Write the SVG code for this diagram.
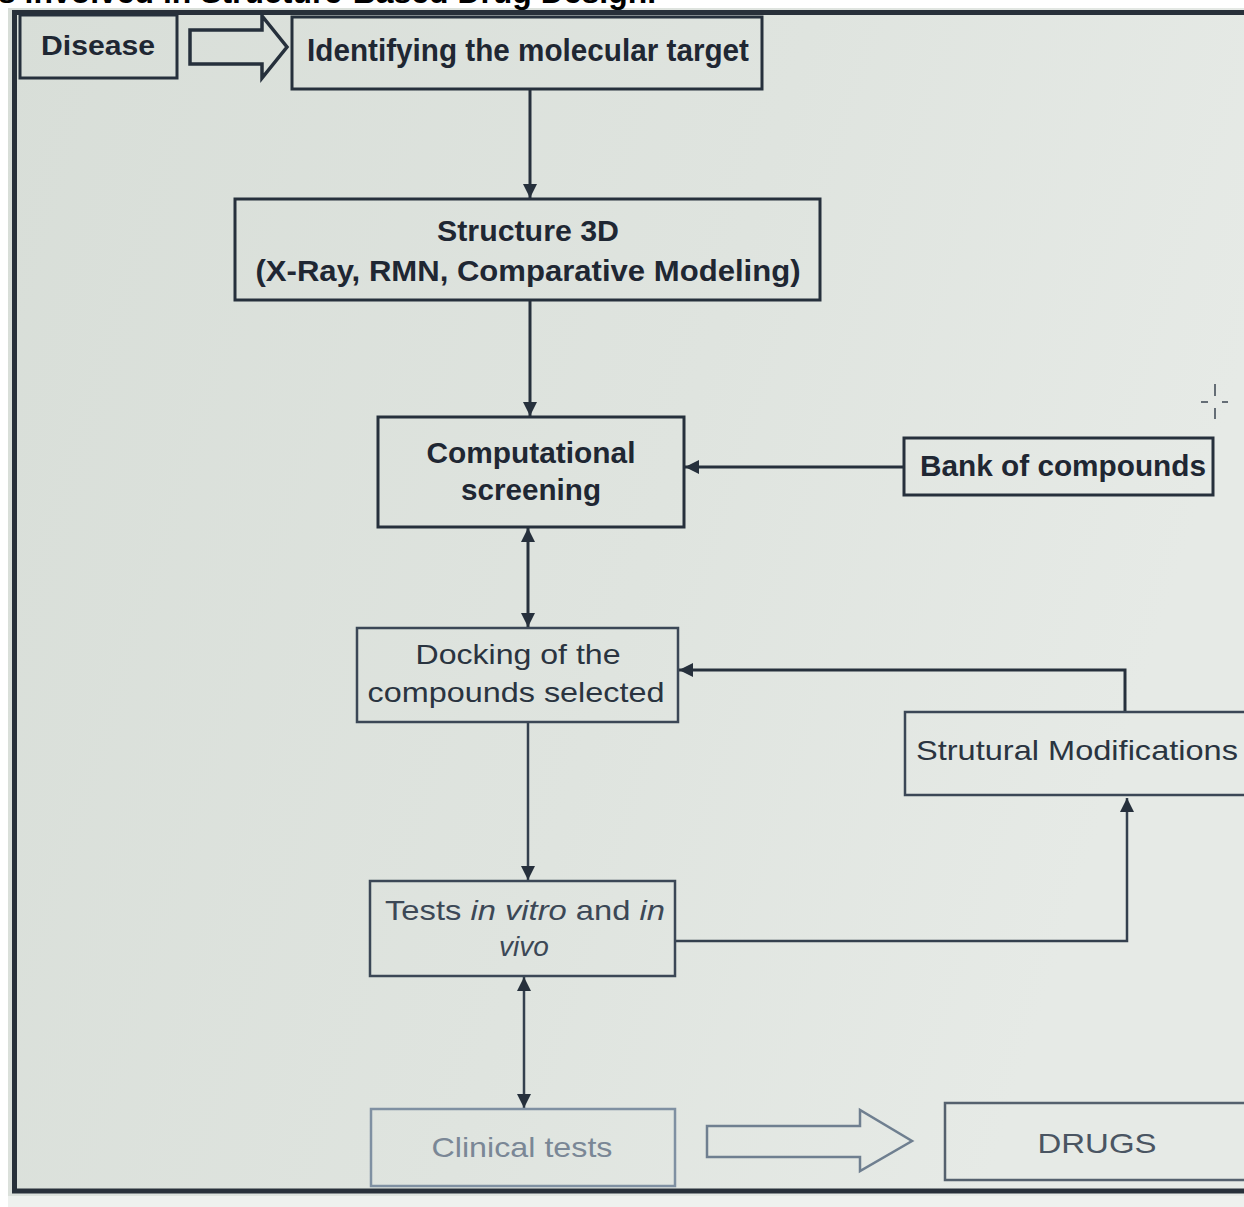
<svg xmlns="http://www.w3.org/2000/svg" width="1244" height="1207" viewBox="0 0 1244 1207">
  <defs>
    <linearGradient id="bg" x1="0" y1="0" x2="1" y2="0.3">
      <stop offset="0" stop-color="#d8ded8"/>
      <stop offset="0.6" stop-color="#dfe4df"/>
      <stop offset="1" stop-color="#e6eae6"/>
    </linearGradient>
    <marker id="ah" viewBox="0 0 10 10" refX="10" refY="5" markerWidth="14" markerHeight="14" markerUnits="userSpaceOnUse" orient="auto-start-reverse">
      <path d="M0,0 L10,5 L0,10 z" fill="#26303c"/>
    </marker>
    <style>
      .box { fill: none; stroke: #26303c; stroke-width: 3; }
      .box2 { fill: none; stroke: #3b4756; stroke-width: 2.5; }
      .box3 { fill: none; stroke: #7f90a2; stroke-width: 2.5; }
      .line { fill: none; stroke: #26303c; stroke-width: 3; }
      .line2 { fill: none; stroke: #34404e; stroke-width: 2.5; }
      .t1 { font-family: "Liberation Sans", Arial, sans-serif; font-weight: bold; fill: #1f2733; text-anchor: middle; }
      .t2 { font-family: "Liberation Sans", Arial, sans-serif; fill: #2a3440; text-anchor: middle; }
      .t3 { font-family: "Liberation Sans", Arial, sans-serif; fill: #3c4856; text-anchor: middle; }
    </style>
  </defs>

  <rect x="0" y="0" width="1244" height="1207" fill="#ffffff"/>
  <rect x="8" y="8" width="1236" height="1190" fill="url(#bg)"/>
  <rect x="8" y="1196" width="1236" height="11" fill="#eef1ee"/>

  <text x="-2" y="3" font-family="Liberation Sans, Arial, sans-serif" font-weight="bold" font-size="31" fill="#000" textLength="658" lengthAdjust="spacingAndGlyphs">s involved in Structure-Based Drug Design.</text>

  <!-- outer frame -->
  <path d="M1250,12.5 L14.5,12.5 L14.5,1191 L1250,1191" fill="none" stroke="#28303a" stroke-width="5"/>

  <g id="connectors">
    <!-- Disease hollow arrow -->
    <path d="M190,30 L262,30 L262,16 L287,47 L262,78 L262,64 L190,64 Z" fill="none" stroke="#26303c" stroke-width="3.5" stroke-linejoin="miter"/>
    <line class="line" x1="530" y1="89" x2="530" y2="198" marker-end="url(#ah)"/>
    <line class="line" x1="530" y1="300" x2="530" y2="416" marker-end="url(#ah)"/>
    <line class="line" x1="904" y1="467" x2="685" y2="467" marker-end="url(#ah)"/>
    <line class="line" x1="528" y1="528" x2="528" y2="627" marker-start="url(#ah)" marker-end="url(#ah)"/>
    <polyline class="line" points="1125,712 1125,670 679,670" marker-end="url(#ah)"/>
    <line class="line2" x1="528" y1="722" x2="528" y2="880" marker-end="url(#ah)"/>
    <polyline class="line2" points="675,941 1127,941 1127,798" marker-end="url(#ah)"/>
    <line class="line2" x1="524" y1="977" x2="524" y2="1108" marker-start="url(#ah)" marker-end="url(#ah)"/>
    <!-- Clinical tests hollow arrow -->
    <path d="M707,1126 L860,1126 L860,1110 L912,1141 L860,1171 L860,1157 L707,1157 Z" fill="none" stroke="#6f7f90" stroke-width="2.5"/>
    <!-- small crosshair mark -->
    <g stroke="#3a4450" stroke-width="1.5">
      <line x1="1215" y1="384" x2="1215" y2="396"/>
      <line x1="1215" y1="408" x2="1215" y2="419"/>
      <line x1="1201" y1="402" x2="1208" y2="402"/>
      <line x1="1222" y1="402" x2="1228" y2="402"/>
    </g>
  </g>

  <g id="node-disease">
    <rect class="box" x="20" y="15" width="157" height="63"/>
    <text class="t1" x="98" y="55" font-size="28" textLength="114" lengthAdjust="spacingAndGlyphs">Disease</text>
  </g>

  <g id="node-target">
    <rect class="box" x="292" y="17" width="470" height="72"/>
    <text class="t1" x="528" y="61" font-size="31" textLength="442" lengthAdjust="spacingAndGlyphs">Identifying the molecular target</text>
  </g>

  <g id="node-structure">
    <rect class="box" x="235" y="199" width="585" height="101"/>
    <text class="t1" x="528" y="241" font-size="29" textLength="182" lengthAdjust="spacingAndGlyphs">Structure 3D</text>
    <text class="t1" x="528" y="281" font-size="29" textLength="545" lengthAdjust="spacingAndGlyphs">(X-Ray, RMN, Comparative Modeling)</text>
  </g>

  <g id="node-screening">
    <rect class="box" x="378" y="417" width="306" height="110"/>
    <text class="t1" x="531" y="463" font-size="29" textLength="209" lengthAdjust="spacingAndGlyphs">Computational</text>
    <text class="t1" x="531" y="500" font-size="29" textLength="140" lengthAdjust="spacingAndGlyphs">screening</text>
  </g>

  <g id="node-bank">
    <rect class="box" x="904" y="438" width="309" height="57"/>
    <text class="t1" x="1063" y="476" font-size="29" textLength="286" lengthAdjust="spacingAndGlyphs">Bank of compounds</text>
  </g>

  <g id="node-docking">
    <rect class="box2" x="357" y="628" width="321" height="94"/>
    <text class="t2" x="518" y="664" font-size="28" textLength="205" lengthAdjust="spacingAndGlyphs">Docking of the</text>
    <text class="t2" x="516" y="702" font-size="28" textLength="297" lengthAdjust="spacingAndGlyphs">compounds selected</text>
  </g>

  <g id="node-modifications">
    <rect class="box2" x="905" y="712" width="350" height="83"/>
    <text class="t2" x="1077" y="760" font-size="28" textLength="322" lengthAdjust="spacingAndGlyphs">Strutural Modifications</text>
  </g>

  <g id="node-tests">
    <rect class="box2" x="370" y="881" width="305" height="95"/>
    <text class="t3" x="525" y="920" font-size="28" textLength="280" lengthAdjust="spacingAndGlyphs">Tests <tspan font-style="italic">in vitro</tspan> and <tspan font-style="italic">in</tspan></text>
    <text class="t3" x="524" y="956" font-size="28" font-style="italic">vivo</text>
  </g>

  <g id="node-clinical">
    <rect class="box3" x="371" y="1109" width="304" height="77"/>
    <text x="522" y="1157" font-family="Liberation Sans, Arial, sans-serif" font-size="28" fill="#7a8796" text-anchor="middle" textLength="181" lengthAdjust="spacingAndGlyphs">Clinical tests</text>
  </g>

  <g id="node-drugs">
    <rect class="box3" x="945" y="1103" width="310" height="77" style="stroke:#55616e"/>
    <text x="1097" y="1153" font-family="Liberation Sans, Arial, sans-serif" font-size="28" fill="#4a5562" text-anchor="middle" textLength="119" lengthAdjust="spacingAndGlyphs">DRUGS</text>
  </g>
</svg>
